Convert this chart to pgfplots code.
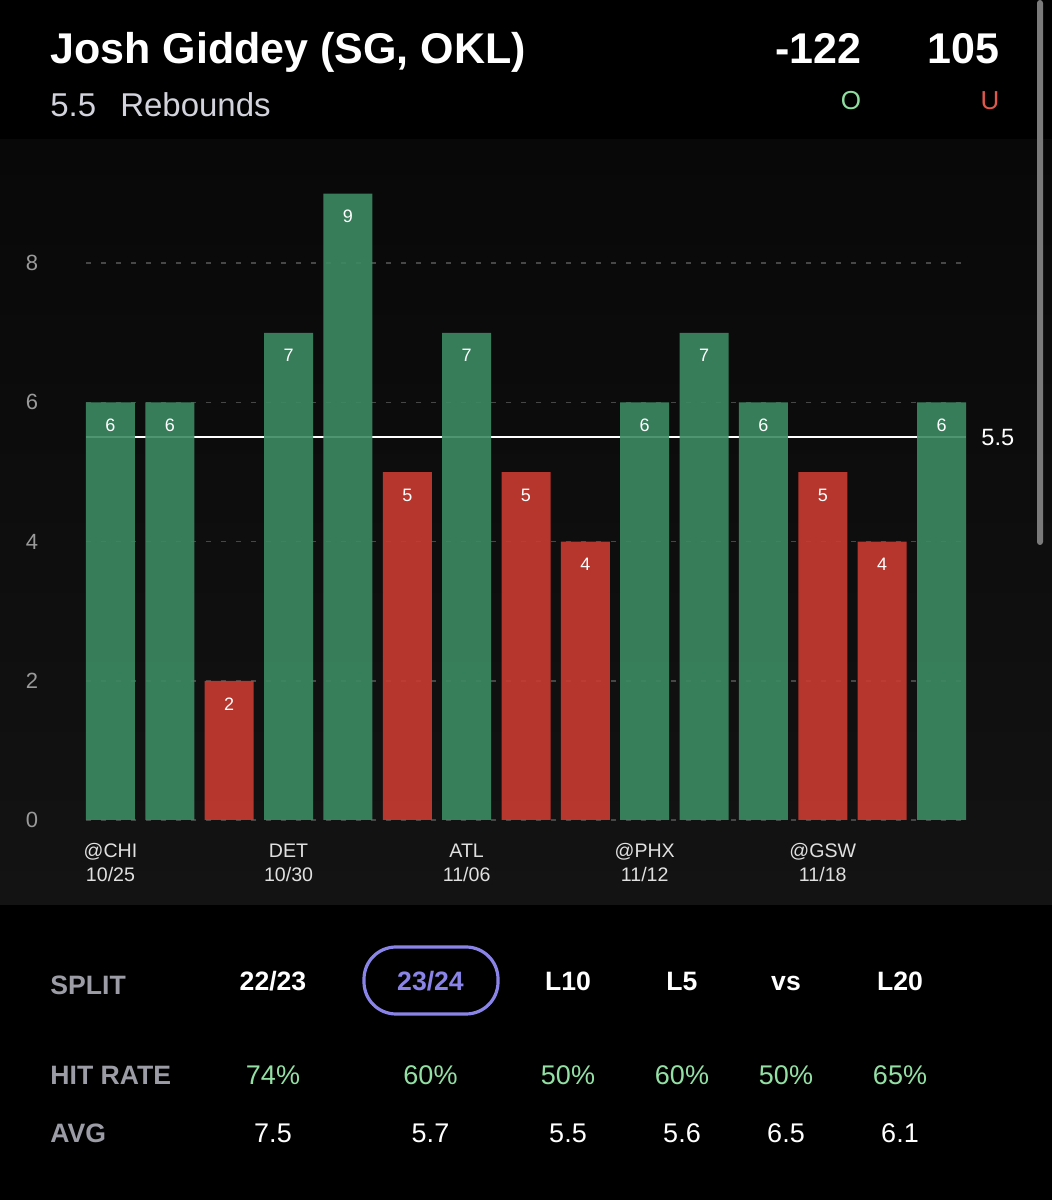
\documentclass[border=0pt]{standalone}
\usepackage{fontspec}
\setmainfont{Liberation Sans}
\usepackage{pgfplots}
\pgfplotsset{compat=1.18}
\definecolor{bargreen}{HTML}{3C8A63}
\definecolor{barred}{HTML}{C93A30}
\definecolor{tickgray}{HTML}{9A9A9A}
\definecolor{gridgray}{HTML}{474747}
\definecolor{subgray}{HTML}{D2D3DC}
\definecolor{labgray}{HTML}{9C9CA6}
\definecolor{hitgreen}{HTML}{93E0A5}
\definecolor{ogreen}{HTML}{8EDE9F}
\definecolor{ured}{HTML}{E0574C}
\definecolor{purp}{HTML}{8A84E8}
\definecolor{panelTop}{HTML}{080808}
\definecolor{panelBot}{HTML}{131313}
\definecolor{scroll}{HTML}{7A7A7A}
\begin{document}
\begin{tikzpicture}
\begin{scope}[x=0.5pt,y=0.5pt]
\fill[black] (0,0) rectangle (1052,1200);
\shade[top color=panelTop, bottom color=panelBot] (0,1060) rectangle (1052,295);
\fill[scroll, rounded corners=1.5pt] (1037,1200) rectangle (1043,655);
% header
\node[anchor=base west, inner sep=0, text=white, font=\fontsize{21.5}{24}\selectfont\bfseries] at (50,1136) {Josh Giddey (SG, OKL)};
\node[anchor=base west, inner sep=0, text=subgray, font=\fontsize{16.5}{20}\selectfont] at (50,1083) {5.5\hspace{0.45em} Rebounds};
\node[anchor=base east, inner sep=0, text=white, font=\fontsize{21.5}{24}\selectfont\bfseries] at (862,1136) {-122};
\node[anchor=base east, inner sep=0, text=white, font=\fontsize{21.5}{24}\selectfont\bfseries] at (1000,1136) {105};
\node[anchor=base, inner sep=0, text=ogreen, font=\fontsize{13}{15}\selectfont] at (851,1090) {O};
\node[anchor=base, inner sep=0, text=ured, font=\fontsize{13}{15}\selectfont] at (990,1090) {U};
% table
\draw[purp, line width=1.6pt, rounded corners=16pt] (364,253) rectangle (498,186);
\node[anchor=base west, inner sep=0, text=labgray, font=\fontsize{13.3}{16}\selectfont\bfseries] at (50,205) {SPLIT};
\node[anchor=base west, inner sep=0, text=labgray, font=\fontsize{13.3}{16}\selectfont\bfseries] at (50,115) {HIT RATE};
\node[anchor=base west, inner sep=0, text=labgray, font=\fontsize{13.3}{16}\selectfont\bfseries] at (50,57) {AVG};
\foreach \x/\t in {273/22\slash23, 568/L10, 682/L5, 786/vs, 900/L20}
  \node[anchor=base, inner sep=0, text=white, font=\fontsize{13.3}{16}\selectfont\bfseries] at (\x,209.5) {\t};
\node[anchor=base, inner sep=0, text=purp, font=\fontsize{13.3}{16}\selectfont\bfseries] at (430.5,209.5) {23/24};
\foreach \x/\t in {273/74\%, 430.5/60\%, 568/50\%, 682/60\%, 786/50\%, 900/65\%}
  \node[anchor=base, inner sep=0, text=hitgreen, font=\fontsize{13.5}{16}\selectfont] at (\x,115) {\t};
\foreach \x/\t in {273/7.5, 430.5/5.7, 568/5.5, 682/5.6, 786/6.5, 900/6.1}
  \node[anchor=base, inner sep=0, text=white, font=\fontsize{13.5}{16}\selectfont] at (\x,57) {\t};
\end{scope}
\begin{axis}[
  at={(43pt,190pt)}, anchor=south west,
  scale only axis, width=440pt, height=330.6pt,
  xmin=-0.4127, xmax=14.4127, ymin=0, ymax=9.5,
  clip=false,
  axis line style={draw=none}, tick style={draw=none},
  ybar, bar width=24.5pt, bar shift=0pt,
  ytick={0,2,4,6,8},
  xtick={0,3,6,9,12},
  xticklabels={{@CHI\\10/25},{DET\\10/30},{ATL\\11/06},{@PHX\\11/12},{@GSW\\11/18}},
  xticklabel style={align=center, text=white!88!black, font=\fontsize{9.8}{12}\selectfont, yshift=-4pt},
  yticklabel style={anchor=center, xshift=-27pt, text=tickgray, font=\fontsize{11}{13}\selectfont},
  /pgf/number format/assume math mode=true,
  ymajorgrids,
  grid style={gridgray, line width=0.75pt, dash pattern=on 2.5pt off 5pt},
  barlab/.style={nodes near coords, every node near coord/.append style={anchor=center, yshift=-11.5pt, text=white, text opacity=1, font=\fontsize{9}{11}\selectfont}},
]
\addplot[sharp plot, white, line width=1.2pt, forget plot] coordinates {(-0.4127,5.5) (14.4127,5.5)};
\addplot[fill=bargreen, draw=none, fill opacity=0.9, barlab] coordinates {(0,6) (1,6) (3,7) (4,9) (6,7) (9,6) (10,7) (11,6) (14,6)};
\addplot[fill=barred, draw=none, fill opacity=0.9, barlab] coordinates {(2,2) (5,5) (7,5) (8,4) (12,5) (13,4)};
\node[anchor=west, text=white, font=\fontsize{11.8}{14}\selectfont, inner sep=0pt] at (axis cs:14.4127,5.5) [xshift=7.5pt] {5.5};
\end{axis}
\end{tikzpicture}
\end{document}
